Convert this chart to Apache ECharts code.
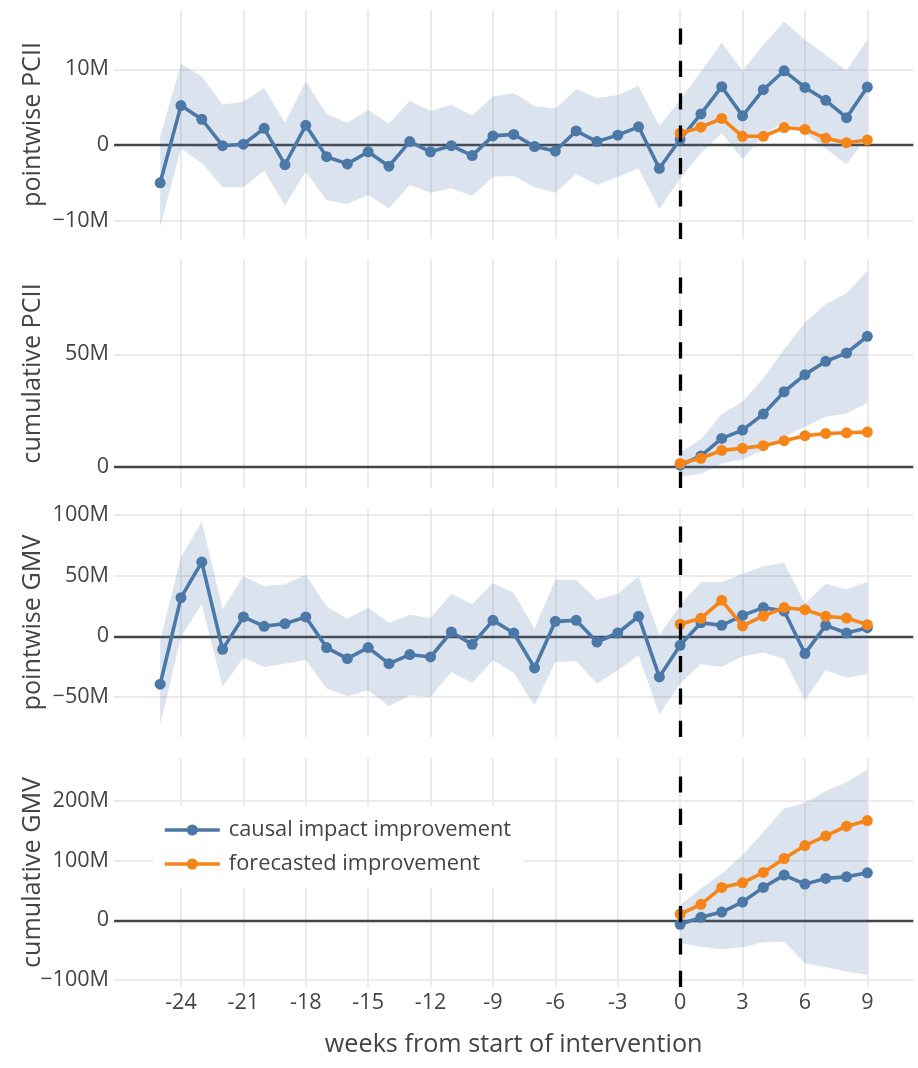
<!DOCTYPE html>
<html>
<head>
<meta charset="utf-8">
<script src="https://cdn.jsdelivr.net/npm/echarts@6/dist/echarts.min.js"></script>
<style>
  html, body { margin: 0; padding: 0; background: #fff; }
  #chart { width: 918px; height: 1068px; }
</style>
</head>
<body>
<div id="chart"></div>
<script>
// ---- data (values in millions) ----
const weeks = [-25, -24, -23, -22, -21, -20, -19, -18, -17, -16, -15, -14, -13, -12, -11, -10, -9, -8,
               -7, -6, -5, -4, -3, -2, -1, 0, 1, 2, 3, 4, 5, 6, 7, 8, 9];
const postWeeks = [0, 1, 2, 3, 4, 5, 6, 7, 8, 9];

const xTicks = [-24, -21, -18, -15, -12, -9, -6, -3, 0, 3, 6, 9];
const yTicksPointPCII = [-10, 0, 10];
const yTicksCumPCII = [0, 50];
const yTicksPointGMV = [-50, 0, 50, 100];
const yTicksCumGMV = [-100, 0, 100, 200];

// pointwise PCII
const pointPCII = [-5.0, 5.2, 3.4, -0.1, 0.1, 2.2, -2.6, 2.6, -1.55, -2.5, -0.9, -2.8, 0.45, -0.9, -0.1, -1.4, 1.2, 1.4,
                   -0.2, -0.8, 1.85, 0.45, 1.3, 2.4, -3.1, 0.75, 4.1, 7.7, 3.85, 7.3, 9.8, 7.6, 5.9, 3.6, 7.65];
const pointPCIIHi = [1.1, 10.7, 9.05, 5.3, 5.75, 7.5, 2.95, 8.4, 4.1, 2.95, 4.6, 2.85, 5.85, 4.5, 5.3, 3.9, 6.4, 6.85,
                     5.15, 4.8, 7.4, 6.2, 6.6, 7.8, 2.5, 5.95, 9.7, 13.5, 9.8, 13.2, 16.3, 13.9, 11.9, 9.85, 13.9];
const pointPCIILo = [-10.8, -0.45, -2.4, -5.6, -5.6, -3.4, -8.0, -3.5, -7.3, -7.8, -6.6, -8.4, -5.3, -6.3, -5.7, -6.75, -4.2, -4.1,
                     -5.6, -6.3, -3.85, -5.3, -4.2, -3.1, -8.5, -4.4, -1.1, 1.55, -1.9, 1.3, 3.1, 1.55, -0.45, -2.55, 1.1];
const pointPCIIForecast = [1.55, 2.35, 3.5, 1.15, 1.15, 2.3, 2.05, 0.9, 0.3, 0.65];

// cumulative PCII
const cumPCII = [0.8, 4.9, 12.7, 16.4, 23.5, 33.4, 41.0, 46.9, 50.6, 58.0];
const cumPCIIHi = [6.3, 12.3, 23.5, 29.0, 39.4, 52.2, 64.0, 72.3, 77.1, 87.1];
const cumPCIILo = [-4.3, -3.1, 1.6, 3.4, 7.5, 13.4, 17.9, 22.3, 23.8, 28.5];
const cumPCIIForecast = [1.6, 3.9, 7.4, 8.3, 9.5, 11.7, 13.9, 14.9, 15.2, 15.5];

// pointwise GMV
const pointGMV = [-39.4, 31.8, 61.0, -10.7, 15.9, 8.2, 10.4, 15.9, -9.3, -18.4, -9.3, -22.5, -15.0, -17.0, 3.6, -6.6, 13.1, 2.7,
                  -26.0, 12.3, 13.1, -4.7, 2.7, 16.4, -33.4, -7.4, 11.2, 9.0, 17.2, 23.6, 20.8, -14.2, 9.0, 2.7, 7.1];
const pointGMVHi = [-3.3, 65.0, 94.7, 22.7, 49.3, 41.1, 42.7, 50.7, 24.6, 14.5, 23.6, 10.9, 17.8, 15.0, 35.0, 26.3, 43.8, 35.6,
                    6.3, 46.6, 46.6, 30.1, 35.0, 49.3, 0.8, 25.5, 44.6, 44.6, 51.5, 57.5, 60.2, 26.9, 43.3, 38.6, 44.6];
const pointGMVLo = [-73.0, -0.5, 26.3, -41.6, -17.5, -25.2, -22.5, -19.2, -43.0, -49.3, -44.4, -57.5, -48.5, -49.9, -29.3, -38.4, -19.7, -30.1,
                    -56.7, -21.1, -20.5, -38.9, -28.0, -15.6, -64.0, -38.9, -23.0, -25.2, -16.4, -13.4, -18.4, -52.6, -28.0, -34.0, -31.2];
const pointGMVForecast = [9.9, 14.8, 29.6, 8.5, 16.7, 23.6, 21.9, 16.4, 15.0, 9.6];

// cumulative GMV
const cumGMV = [-6.7, 5.0, 13.9, 30.7, 55.3, 75.9, 60.8, 70.4, 73.0, 79.8];
const cumGMVHi = [25.6, 53.6, 78.7, 109.4, 148.4, 187.6, 197.0, 217.0, 232.0, 253.0];
const cumGMVLo = [-38.5, -44.2, -48.6, -45.2, -36.9, -35.8, -72.0, -78.7, -86.0, -91.6];
const cumGMVForecast = [10.5, 26.8, 55.3, 63.0, 80.4, 103.8, 125.6, 141.7, 158.0, 167.5];

// ---- styling ----
const FONT = '"Open Sans", "Noto Sans", sans-serif';
const TEXT = '#444';
const BLUE = '#4c78a8';
const ORANGE = '#f58518';
const BAND = 'rgba(76, 120, 168, 0.2)';
const GRIDLINE = '#ebebeb';
const NAME_CAUSAL = 'causal impact improvement';
const NAME_FORECAST = 'forecasted improvement';

const panels = [
  { title: 'pointwise PCII', ticks: yTicksPointPCII, min: -12.42, max: 17.83, top: 10,
    x: weeks, y: pointPCII, lo: pointPCIILo, hi: pointPCIIHi, fx: postWeeks, fy: pointPCIIForecast },
  { title: 'cumulative PCII', ticks: yTicksCumPCII, min: -9.3, max: 92.3, top: 259,
    x: postWeeks, y: cumPCII, lo: cumPCIILo, hi: cumPCIIHi, fx: postWeeks, fy: cumPCIIForecast },
  { title: 'pointwise GMV', ticks: yTicksPointGMV, min: -82.8, max: 105.5, top: 508,
    x: weeks, y: pointGMV, lo: pointGMVLo, hi: pointGMVHi, fx: postWeeks, fy: pointGMVForecast },
  { title: 'cumulative GMV', ticks: yTicksCumGMV, min: -112, max: 272.6, top: 758,
    x: postWeeks, y: cumGMV, lo: cumGMVLo, hi: cumGMVHi, fx: postWeeks, fy: cumGMVForecast }
];

const zip = (xs, ys) => xs.map((x, k) => [x, ys[k]]);
const fmtMillions = v => v === 0 ? '0' : (v < 0 ? '\u2212' : '') + Math.abs(v) + 'M';

const grid = [], xAxis = [], yAxis = [], series = [];

panels.forEach((p, i) => {
  const last = i === panels.length - 1;
  grid.push({ left: 114, right: 4.7, top: p.top, height: 229, outerBoundsMode: 'none' });

  xAxis.push({
    type: 'value', gridIndex: i, min: -27.22, max: 11.21,
    axisLine: { show: false },
    axisTick: { show: false, customValues: xTicks },
    axisLabel: { show: last, customValues: xTicks, color: TEXT, fontFamily: FONT, fontSize: 21.6, margin: 5 },
    splitLine: { show: true, lineStyle: { color: GRIDLINE, width: 2 } },
    name: last ? 'weeks from start of intervention' : '',
    nameLocation: 'middle', nameGap: 45, nameMoveOverlap: false,
    nameTextStyle: { color: TEXT, fontFamily: FONT, fontSize: 25.2 }
  });

  yAxis.push({
    type: 'value', gridIndex: i, min: p.min, max: p.max,
    axisLine: { show: false },
    axisTick: { show: false, customValues: p.ticks },
    axisLabel: { customValues: p.ticks, formatter: fmtMillions, color: TEXT, fontFamily: FONT, fontSize: 21.6, margin: 5 },
    splitLine: { show: true, lineStyle: { color: GRIDLINE, width: 2 } },
    name: p.title, nameLocation: 'middle', nameGap: 69, nameMoveOverlap: false,
    nameTextStyle: { color: TEXT, fontFamily: FONT, fontSize: 25.2 }
  });

  // uncertainty band between the lower and upper bounds
  series.push({
    type: 'custom', name: 'band' + i, xAxisIndex: i, yAxisIndex: i, z: 2, silent: true,
    data: p.x.map((x, k) => [x, p.lo[k], p.hi[k]]),
    encode: { x: 0, y: [1, 2] },
    renderItem(params, api) {
      if (params.dataIndex !== 0) return null;
      const upper = p.x.map((x, k) => api.coord([x, p.hi[k]]));
      const lower = p.x.map((x, k) => api.coord([x, p.lo[k]])).reverse();
      return { type: 'polygon', shape: { points: upper.concat(lower) }, style: { fill: BAND } };
    }
  });

  series.push({
    type: 'line', name: NAME_CAUSAL, xAxisIndex: i, yAxisIndex: i, z: 3,
    data: zip(p.x, p.y),
    symbol: 'circle', symbolSize: 11, showAllSymbol: true,
    lineStyle: { color: BLUE, width: 3.6 }, itemStyle: { color: BLUE },
    markLine: {
      silent: true, z: 1, symbol: ['none', 'none'], label: { show: false },
      lineStyle: { type: 'solid', color: '#444', width: 2.3 },
      data: [{ yAxis: 0 }]
    }
  });

  series.push({
    type: 'line', name: NAME_FORECAST, xAxisIndex: i, yAxisIndex: i, z: 4,
    data: zip(p.fx, p.fy),
    symbol: 'circle', symbolSize: 11, showAllSymbol: true,
    lineStyle: { color: ORANGE, width: 3.6 }, itemStyle: { color: ORANGE },
    markLine: {
      silent: true, z: 6, symbol: ['none', 'none'], label: { show: false },
      lineStyle: { type: [16.2, 16.2], color: '#000', width: 3.3 },
      // intervention start: from the bottom of the panel up to the top of the band
      data: [[{ coord: [0, p.min] }, { coord: [0, Math.max(...p.hi)] }]]
    }
  });
});

const chart = echarts.init(document.getElementById('chart'), null, { renderer: 'canvas' });
chart.setOption({
  animation: false,
  backgroundColor: '#fff',
  textStyle: { fontFamily: FONT },
  grid, xAxis, yAxis, series,
  legend: {
    data: [NAME_CAUSAL, NAME_FORECAST],
    orient: 'vertical', left: 153, top: 806,
    padding: [13, 12, 13, 10], itemGap: 12,
    backgroundColor: '#fff',
    itemWidth: 55, itemHeight: 14,
    lineStyle: { width: 3.6 },
    textStyle: { color: TEXT, fontFamily: FONT, fontSize: 21.8, lineHeight: 22, padding: [0, 0, 0, 4] }
  }
});
</script>
</body>
</html>
